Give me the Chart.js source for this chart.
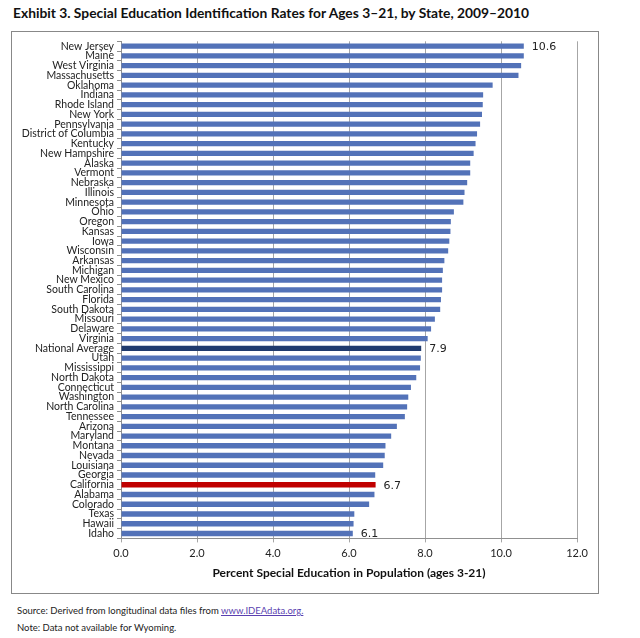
<!DOCTYPE html>
<html>
<head>
<meta charset="utf-8">
<script src="https://cdn.jsdelivr.net/npm/chart.js@4"></script>
<style>
  body { margin: 0; background: #fff; font-family: Lato, "DejaVu Sans", sans-serif; }
  #title { position: absolute; left: 13px; top: 4px; font-size: 13.8px; font-weight: bold; color: #111; white-space: nowrap; }
  #frame { position: absolute; left: 11px; top: 31px; width: 586px; height: 561px; border: 1px solid #888; }
  #notes { position: absolute; left: 17px; top: 602px; font-size: 9.5px; color: #222; line-height: 17px; }
  #notes a { color: #5a3fb0; }
</style>
</head>
<body>
<div id="title">Exhibit 3. Special Education Identification Rates for Ages 3–21, by State, 2009–2010</div>
<div id="frame"><canvas id="chart" width="586" height="561"></canvas></div>
<div id="notes">
  <div>Source: Derived from longitudinal data files from <a href="#">www.IDEAdata.org.</a></div>
  <div>Note: Data not available for Wyoming.</div>
</div>
<script>
const states = [
  "New Jersey", "Maine", "West Virginia", "Massachusetts", "Oklahoma", "Indiana",
  "Rhode Island", "New York", "Pennsylvania", "District of Columbia", "Kentucky",
  "New Hampshire", "Alaska", "Vermont", "Nebraska", "Illinois", "Minnesota", "Ohio",
  "Oregon", "Kansas", "Iowa", "Wisconsin", "Arkansas", "Michigan", "New Mexico",
  "South Carolina", "Florida", "South Dakota", "Missouri", "Delaware", "Virginia",
  "National Average", "Utah", "Mississippi", "North Dakota", "Connecticut", "Washington",
  "North Carolina", "Tennessee", "Arizona", "Maryland", "Montana", "Nevada", "Louisiana",
  "Georgia", "California", "Alabama", "Colorado", "Texas", "Hawaii", "Idaho"
];
const rates = [
  10.6, 10.6, 10.53, 10.46, 9.78, 9.53,
  9.52, 9.5, 9.45, 9.37, 9.33,
  9.28, 9.19, 9.19, 9.11, 9.04, 9.01, 8.76,
  8.68, 8.67, 8.64, 8.61, 8.51, 8.47, 8.45,
  8.45, 8.42, 8.4, 8.26, 8.16, 8.07,
  7.9, 7.89, 7.87, 7.77, 7.63, 7.56,
  7.53, 7.47, 7.26, 7.11, 6.96, 6.94, 6.9,
  6.69, 6.7, 6.67, 6.53, 6.14, 6.12, 6.1
];
const xTicks = [0, 2, 4, 6, 8, 10, 12];
const labelled = ["New Jersey", "National Average", "California", "Idaho"];

const barColors = states.map(s =>
  s === "National Average" ? "#1f3a6e" : s === "California" ? "#c00000" : "#5372b8");

// value labels at the end of a few bars
const endLabels = {
  id: 'endLabels',
  afterDatasetsDraw(chart) {
    const ctx = chart.ctx;
    const meta = chart.getDatasetMeta(0);
    ctx.save();
    ctx.font = '11px "DejaVu Sans", sans-serif';
    ctx.fillStyle = '#222';
    ctx.textBaseline = 'middle';
    labelled.forEach(name => {
      const i = states.indexOf(name);
      const bar = meta.data[i];
      ctx.fillText(rates[i].toFixed(1), bar.x + 8, bar.y + 1);
    });
    ctx.restore();
  }
};

new Chart(document.getElementById('chart'), {
  type: 'bar',
  data: {
    labels: states,
    datasets: [{
      data: rates,
      backgroundColor: barColors,
      barPercentage: 0.55,
      categoryPercentage: 1
    }]
  },
  options: {
    indexAxis: 'y',
    responsive: false,
    animation: false,
    layout: { padding: { top: 7, right: 21, bottom: 9, left: 0 } },
    plugins: { legend: { display: false }, tooltip: { enabled: false } },
    scales: {
      x: {
        min: 0,
        max: 12,
        afterBuildTicks(scale) { scale.ticks = xTicks.map(v => ({ value: v })); },
        ticks: {
          callback: v => v.toFixed(1),
          padding: 4,
          color: '#222',
          font: { family: 'Lato', size: 11 }
        },
        grid: { color: '#a6a6a6', tickLength: 4 },
        border: { color: '#909090' },
        title: {
          display: true,
          text: 'Percent Special Education in Population (ages 3-21)',
          color: '#111',
          font: { family: 'Lato', size: 12, weight: 'bold' },
          padding: { top: 2, bottom: 4 }
        }
      },
      y: {
        afterFit(scale) { scale.width = 109; },
        ticks: {
          autoSkip: false,
          padding: 3,
          color: '#222',
          font: { family: 'Lato', size: 10.5 }
        },
        grid: { drawOnChartArea: false, color: '#909090', tickLength: 4 },
        border: { color: '#909090' }
      }
    }
  },
  plugins: [endLabels]
});
</script>
</body>
</html>
